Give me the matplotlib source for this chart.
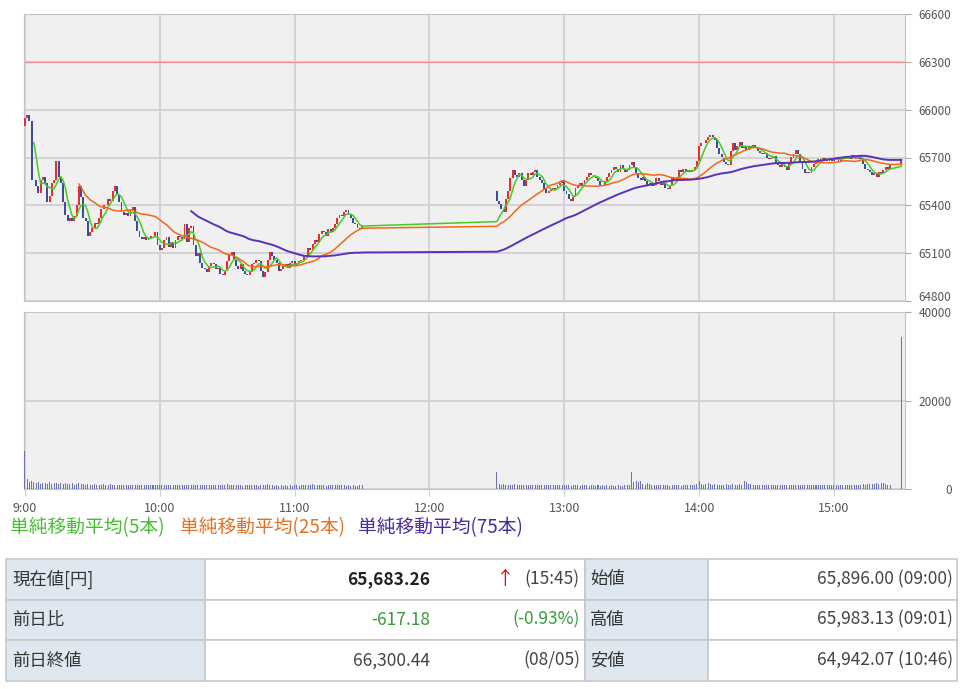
import matplotlib
matplotlib.use("Agg")
import matplotlib.pyplot as plt
import numpy as np
import pandas as pd
from matplotlib.patches import Rectangle

plt.rcParams['font.family'] = ['Noto Sans CJK JP', 'DejaVu Sans']

# 1-minute closes, morning session starts 9:00, afternoon 12:30
am_close = [
    65950, 65965, 65930, 65560, 65560, 65520, 65480, 65560, 65580, 65540,
    65420, 65460, 65540, 65560, 65680, 65580, 65540, 65420, 65340, 65300,
    65320, 65300, 65330, 65400, 65520, 65450, 65320, 65300, 65210, 65230,
    65260, 65290, 65280, 65320, 65380, 65400, 65400, 65440, 65430, 65490,
    65520, 65470, 65420, 65360, 65340, 65350, 65330, 65370, 65390, 65300,
    65240, 65200, 65190, 65200, 65180, 65190, 65210, 65210, 65230, 65150,
    65120, 65130, 65180, 65200, 65140, 65170, 65130, 65180, 65210, 65200,
    65190, 65280, 65170, 65260, 65270, 65150, 65080, 65100, 65040, 65010,
    65000, 64980, 65020, 65040, 65030, 65000, 65010, 64970, 64960, 64990,
    65050, 65090, 65110, 65060, 65020, 65000, 65030, 64990, 64970, 64960,
    64980, 65030, 65040, 65060, 65050, 64990, 64950, 64980, 65060, 65110,
    65080, 65060, 65040, 64990, 65000, 65020, 65030, 65010, 65040, 65050,
    65020, 65040, 65050, 65060, 65080, 65090, 65130, 65120, 65160, 65180,
    65170, 65220, 65240, 65230, 65210, 65250, 65230, 65260, 65280, 65320,
    65340, 65330, 65360, 65370, 65340, 65320, 65290, 65280, 65260, 65250,
    65270,
]
pm_close = [
    65430, 65410, 65380, 65360, 65440, 65490, 65570, 65620, 65590, 65580,
    65600, 65560, 65520, 65560, 65600, 65590, 65610, 65620, 65580, 65560,
    65540, 65500, 65480, 65490, 65500, 65510, 65500, 65530, 65540, 65560,
    65490, 65470, 65440, 65430, 65450, 65510, 65520, 65540, 65530, 65560,
    65580, 65600, 65590, 65580, 65570, 65550, 65530, 65520, 65550, 65580,
    65600, 65620, 65640, 65630, 65610, 65650, 65630, 65610, 65620, 65650,
    65670, 65640, 65600, 65570, 65560, 65580, 65550, 65530, 65540, 65520,
    65530, 65570, 65550, 65530, 65540, 65510, 65500, 65520, 65570, 65560,
    65580, 65620, 65610, 65630, 65610, 65620, 65610, 65620, 65640, 65680,
    65770, 65790, 65790, 65810, 65830, 65840, 65830, 65810, 65760, 65720,
    65700, 65670, 65660, 65650, 65740, 65790, 65750, 65770, 65800, 65760,
    65770, 65750, 65770, 65760, 65780, 65760, 65740, 65730, 65720, 65730,
    65700, 65690, 65700, 65710, 65660, 65650, 65640, 65660, 65640, 65620,
    65670, 65700, 65720, 65750, 65720, 65680, 65630, 65600, 65610, 65600,
    65640, 65660, 65680, 65690, 65680, 65700, 65690, 65680, 65700, 65680,
    65690, 65700, 65680, 65690, 65700, 65710, 65700, 65690, 65715, 65700,
    65690, 65715, 65690, 65660, 65630, 65620, 65610, 65590, 65600, 65580,
    65610, 65600, 65620, 65640, 65630, 65650,
]
final_close = 65683.26
am_open = 65896.00
pm_open = 65490
prev_close = 66300.44

am_volume = [
    8500, 2200, 1600, 1900, 1500, 1300, 1600, 1200, 1400, 1300,
    1200, 1500, 1100, 1300, 1400, 1200, 1300, 1100, 1400, 1200,
    1100, 1300, 1000, 1200, 1400, 1100, 1200, 1000, 1100, 900,
    1000, 1100, 900, 1000, 900, 1100, 900, 1000, 1200, 900,
    1000, 900, 800, 900, 1000, 800, 900, 850, 1000, 900,
    800, 900, 850, 800, 900, 800, 850, 900, 800, 900,
    850, 800, 900, 800, 850, 900, 800, 850, 800, 900,
    800, 850, 900, 800, 850, 800, 900, 850, 800, 900,
    850, 800, 900, 1000, 850, 800, 900, 850, 800, 900,
    1100, 900, 850, 800, 900, 850, 800, 750, 900, 850,
    800, 900, 850, 800, 750, 900, 1000, 800, 1100, 900,
    800, 750, 900, 700, 800, 750, 900, 700, 800, 750,
    1000, 800, 750, 900, 800, 1000, 850, 900, 1100, 800,
    900, 1000, 800, 900, 750, 800, 1000, 850, 900, 800,
    1000, 800, 900, 750, 800, 700, 800, 750, 700, 800,
    900,
]
pm_volume = [
    3800, 1200, 1000, 1100, 900, 1000, 900, 1000, 1100, 900,
    1000, 900, 850, 900, 1000, 900, 850, 900, 800, 850,
    900, 800, 850, 900, 800, 850, 900, 800, 850, 800,
    900, 850, 800, 750, 850, 800, 900, 750, 800, 850,
    800, 750, 850, 800, 700, 800, 750, 850, 700, 800,
    750, 800, 700, 750, 800, 700, 750, 800, 900, 1000,
    3800, 1600, 1800, 1500, 1700, 1200, 1000, 1300, 1100, 900,
    900, 1000, 800, 900, 850, 800, 900, 750, 800, 850,
    800, 900, 750, 800, 1000, 800, 900, 850, 1000, 1100,
    1800, 1200, 1000, 1100, 1300, 1200, 1000, 1100, 1000, 900,
    1000, 900, 1100, 1000, 900, 1200, 1000, 900, 1100, 1000,
    1700, 1500, 1200, 1100, 1000, 900, 1000, 900, 850, 900,
    900, 850, 800, 900, 850, 800, 900, 850, 800, 900,
    850, 900, 800, 850, 900, 800, 850, 900, 800, 850,
    900, 850, 800, 900, 850, 900, 800, 850, 900, 850,
    900, 850, 900, 800, 900, 850, 900, 950, 900, 1000,
    900, 1000, 950, 1100, 1000, 1100, 1200, 1100, 1200, 1300,
    1200, 1300, 1400, 1200, 1000, 900,
]
final_volume = 34300

hour_labels = ['9:00', '10:00', '11:00', '12:00', '13:00', '14:00', '15:00']
ma_windows = [5, 25, 75]
ma_names = ['単純移動平均(5本)', '単純移動平均(25本)', '単純移動平均(75本)']

table_rows = [
    ['現在値[円]', '65,683.26', '(15:45)', '始値', '65,896.00 (09:00)'],
    ['前日比', '-617.18', '(-0.93%)', '高値', '65,983.13 (09:01)'],
    ['前日終値', '66,300.44', '(08/05)', '安値', '64,942.07 (10:46)'],
]

RED = '#ee2a2a'
BLUE = '#3d4c9e'
MA_COLORS = ['#44cc22', '#f06818', '#5a32b8']
LEGEND_COLORS = ['#44c030', '#e8701e', '#4a2aa0']
GRID = '#d0d0d0'
FACE = '#f0f0f0'
TXT = '#555555'

# assemble bars
minutes = np.concatenate([np.arange(len(am_close)),
                          210 + np.arange(len(pm_close)), [390]])
closes = np.array(am_close + pm_close + [final_close], dtype=float)
opens = np.concatenate([[am_open], closes[:-1]])
opens[len(am_close)] = pm_open
volumes = np.array(am_volume + pm_volume + [final_volume])

W, H = 963, 689
fig = plt.figure(figsize=(W / 100, H / 100), dpi=100)


def px_axes(x0, y0, x1, y1):
    return fig.add_axes([x0 / W, 1 - y1 / H, (x1 - x0) / W, (y1 - y0) / H])


ax = px_axes(24, 14, 905, 301)
axv = px_axes(24, 312, 905, 489)

for a in (ax, axv):
    a.set_facecolor(FACE)
    for s in a.spines.values():
        s.set_color('#c4c4c4')
    a.set_xlim(-0.4, 391.6)
    a.set_xticks(np.arange(len(hour_labels)) * 60)
    a.grid(True, color=GRID, lw=1.3)
    a.set_axisbelow(True)
    a.yaxis.tick_right()
    a.tick_params(axis='y', length=4, color='#aaaaaa', labelcolor=TXT,
                  labelsize=8.5, pad=29.5)

# price panel
ax.set_ylim(64800, 66600)
ax.set_yticks(np.arange(64800, 66601, 300))
ax.tick_params(axis='x', length=0, labelbottom=False)
ax.axhline(prev_close, color='#f29090', lw=1.0, zorder=2)

up = closes >= opens
body = np.abs(closes - opens)
ax.bar(minutes[up], body[up], bottom=opens[up], width=0.85,
       color=RED, zorder=3)
ax.bar(minutes[~up], -body[~up], bottom=opens[~up], width=0.85,
       color=BLUE, zorder=3)

s = pd.Series(closes)
for w, c, lw in zip(ma_windows, MA_COLORS, [1.1, 1.1, 1.4]):
    ma = s.rolling(w).mean().to_numpy()
    ok = ~np.isnan(ma)
    ax.plot(minutes[ok], ma[ok], color=c, lw=lw, zorder=4)

# volume panel
axv.set_ylim(0, 40000)
axv.set_yticks([0, 20000, 40000])
axv.bar(minutes, volumes, width=0.45, color='#6a72b4', zorder=3)
axv.set_xticklabels(hour_labels)
axv.tick_params(axis='x', length=5, color=GRID, labelcolor=TXT,
                labelsize=9, pad=4)

for a in (ax, axv):
    a.yaxis.set_major_formatter(matplotlib.ticker.FormatStrFormatter('%d'))
    for t in a.yaxis.get_major_ticks():
        t.label2.set_horizontalalignment('right')
# bottom price label and top volume label sit close together
ax.yaxis.get_major_ticks()[0].label2.set_verticalalignment('baseline')

# moving average captions
for xpx, name, c in zip([10, 180, 358], ma_names, LEGEND_COLORS):
    fig.text(xpx / W, 1 - 528 / H, name, color=c, fontsize=13.5, va='center')

# summary table
axt = fig.add_axes([0, 0, 1, 1])
axt.set_xlim(0, W)
axt.set_ylim(H, 0)
axt.axis('off')
axt.patch.set_alpha(0)

row_y = [559, 599.5, 640, 681]
col_x = [6, 205, 585, 708, 957]
FS = 12.5
for i in range(3):
    y0, y1 = row_y[i], row_y[i + 1]
    for j in range(4):
        fc = '#dfe8f0' if j in (0, 2) else 'white'
        axt.add_patch(Rectangle((col_x[j], y0), col_x[j + 1] - col_x[j],
                                y1 - y0, facecolor=fc, edgecolor='#c8c8c8',
                                lw=1.2))
    yc = (y0 + y1) / 2
    lab, val, extra, lab2, val2 = table_rows[i]
    green = val.startswith('-')
    vcol = '#3a9a3a' if green else '#444444'
    axt.text(12, yc, lab, fontsize=FS, color='#333333', va='center')
    axt.text(430, yc, val, fontsize=FS, va='center', ha='right',
             color='#222222' if i == 0 else vcol,
             fontweight='bold' if i == 0 else 'normal')
    axt.text(580, yc, extra, fontsize=FS, va='center', ha='right',
             color='#3a9a3a' if green else '#444444')
    axt.text(590, yc, lab2, fontsize=FS, color='#333333', va='center')
    axt.text(953, yc, val2, fontsize=FS, color='#444444', va='center',
             ha='right')
axt.text(505, (row_y[0] + row_y[1]) / 2, '↑', fontsize=13.5, color='#e01010',
         va='center', ha='center')

fig.savefig('out.png', dpi=100, facecolor='white')
